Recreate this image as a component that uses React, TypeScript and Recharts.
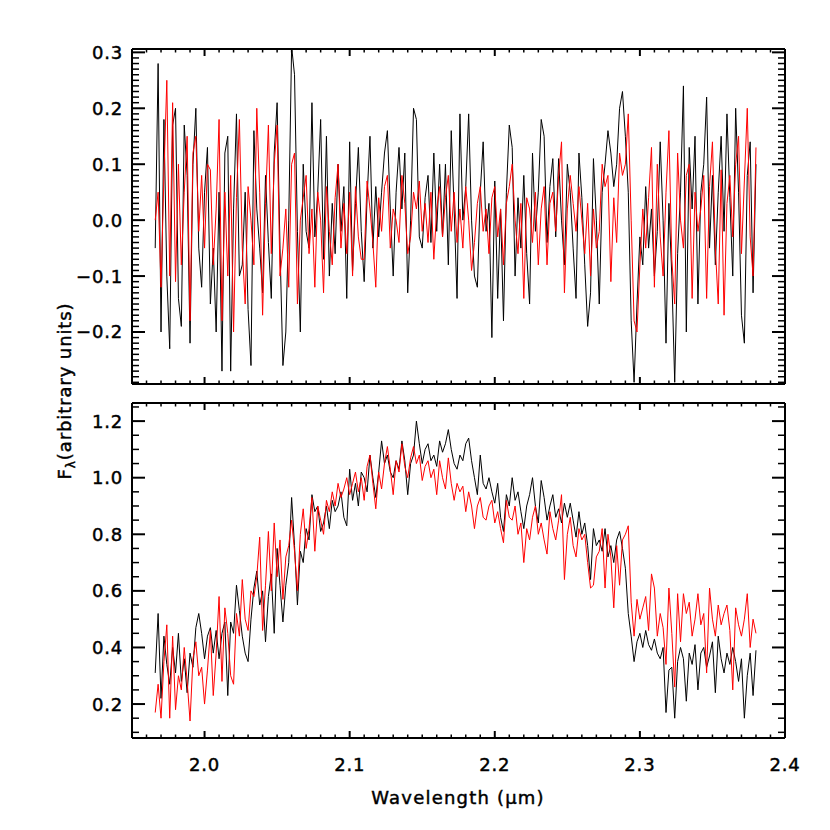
import React from 'react';
import { LineChart, Line, XAxis, YAxis } from 'recharts';

// ---------- data ----------
const START_WAVELENGTH = 1.966;
const WAVELENGTH_STEP = 0.002;

const topBlack = [
  -0.05, 0.28, -0.2, 0.18, -0.1, -0.23, 0.17, 0.2, -0.14, -0.19,
  0.17, 0.08, -0.22, 0.1, 0.2, -0.05, -0.12, 0.05, 0.13, -0.15,
  -0.05, -0.2, 0.05, -0.27, 0.12, 0.15, -0.27, 0.02, 0.19, -0.1,
  -0.08, 0.05, -0.16, -0.26, 0.16, 0.02, -0.05, -0.13, 0.08, -0.04,
  -0.14, 0.12, 0.21, -0.05, -0.26, -0.2, 0.0, 0.31, 0.26, -0.02,
  -0.2, 0.1, -0.02, -0.05, 0.21, -0.03, 0.05, 0.18, -0.07, 0.15,
  -0.1, 0.03, -0.06, 0.1, -0.02, 0.06, -0.14, 0.14, -0.09, 0.03,
  0.13, -0.02, -0.11, 0.04, 0.15, -0.05, 0.06, -0.03, 0.05, 0.12,
  0.16, 0.02, -0.1, 0.05, 0.13, 0.02, 0.12, -0.13, 0.0, 0.2,
  0.18, -0.03, -0.05, 0.04, 0.08, -0.04, 0.12, -0.02, 0.1, -0.03,
  0.1, -0.08, 0.16, 0.02, -0.14, 0.19, 0.0, 0.06, 0.19, 0.0,
  -0.1, -0.12, 0.05, 0.14, -0.02, 0.03, -0.21, 0.07, -0.14, 0.02,
  -0.18, 0.05, 0.17, 0.13, -0.1, 0.04, -0.05, 0.08, -0.06, -0.15,
  0.12, -0.02, 0.05, 0.18, 0.15, -0.04, 0.06, 0.11, -0.03, 0.11,
  0.0, -0.08, 0.1, 0.05, -0.05, -0.14, 0.12, 0.04, -0.08, -0.19,
  -0.13, 0.11, 0.0, -0.15, 0.05, 0.1, 0.16, 0.12, 0.06, 0.1,
  0.2, 0.23, 0.15, 0.05, -0.18, -0.29, -0.15, -0.03, -0.08, 0.06,
  -0.05, 0.02, -0.1, -0.02, 0.14, 0.0, -0.22, 0.03, -0.1, -0.29,
  -0.06, 0.05, 0.24, -0.2, 0.13, 0.02, 0.15, -0.15, 0.05, 0.1,
  0.22, -0.05, 0.08, -0.08, 0.05, 0.15, -0.02, 0.19, 0.04, -0.1,
  0.2, 0.05, -0.17, -0.22, 0.08, 0.14, -0.13, 0.1,
];

const topRed = [
  0.0, 0.05, -0.12, 0.08, 0.25, -0.1, 0.21, -0.11, 0.1, -0.08,
  0.05, 0.15, -0.18, 0.12, 0.15, -0.02, 0.08, -0.05, 0.1, 0.09,
  -0.08, 0.02, 0.18, -0.18, 0.05, -0.1, 0.08, -0.2, 0.04, 0.18,
  -0.05, -0.15, 0.06, 0.0, -0.08, 0.2, 0.05, -0.17, 0.03, 0.17,
  -0.06, 0.1, 0.17, -0.1, -0.05, 0.02, -0.12, 0.1, 0.12, -0.15,
  0.0, 0.04, 0.08, -0.06, 0.02, -0.12, 0.05, 0.0, -0.13, 0.06,
  -0.02, -0.08, 0.04, 0.1, -0.05, 0.03, -0.06, 0.05, -0.1, 0.06,
  -0.03, -0.07, -0.07, 0.07, 0.02, -0.04, -0.12, 0.04, -0.02, 0.06,
  0.08, -0.05, 0.02, 0.0, -0.04, 0.08, 0.03, -0.06, -0.03, 0.05,
  0.02, 0.07, -0.02, 0.03, -0.04, 0.05, -0.07, 0.02, 0.06, -0.03,
  0.04, 0.08, -0.02, 0.05, -0.04, 0.02, -0.05, 0.06, 0.0, -0.09,
  -0.04, 0.03, 0.06, -0.02, 0.02, -0.06, 0.04, 0.06, -0.03, 0.02,
  -0.08, 0.03, 0.06, 0.1, 0.0, -0.06, 0.03, -0.14, 0.04, 0.02,
  -0.04, 0.05, -0.08, 0.02, 0.06, -0.08, 0.03, 0.05, -0.02, 0.08,
  0.14, -0.13, 0.02, 0.08, 0.03, -0.02, 0.06, 0.0, -0.06, 0.03,
  -0.1, 0.02, -0.05, -0.02, 0.1, 0.06, 0.08, -0.11, 0.04, -0.04,
  0.12, 0.08, 0.1, 0.19, 0.0, -0.18, -0.2, -0.08, 0.02, -0.05,
  0.04, 0.13, -0.12, 0.1, -0.03, -0.1, 0.05, 0.16, -0.07, -0.15,
  0.12, 0.0, -0.05, 0.08, 0.1, -0.14, 0.05, -0.02, 0.02, 0.08,
  -0.14, 0.06, 0.14, -0.05, -0.15, 0.09, -0.17, 0.03, 0.08, -0.03,
  0.1, 0.15, -0.06, 0.07, 0.2, -0.03, -0.1, 0.13,
];

const bottomBlack = [
  0.31, 0.52, 0.22, 0.44, 0.34, 0.27, 0.40, 0.31, 0.45, 0.28,
  0.36, 0.24, 0.38, 0.33, 0.47, 0.52, 0.45, 0.36, 0.44, 0.47,
  0.38, 0.46, 0.36, 0.45, 0.49, 0.23, 0.49, 0.45, 0.62, 0.53,
  0.44, 0.38, 0.35, 0.50, 0.61, 0.67, 0.55, 0.60, 0.42, 0.58,
  0.66, 0.45, 0.75, 0.62, 0.49, 0.62, 0.70, 0.93, 0.76, 0.55,
  0.74, 0.70, 0.82, 0.78, 0.94, 0.88, 0.90, 0.81, 0.84, 0.90,
  0.82, 0.92, 0.88, 0.90, 0.95, 0.86, 0.83, 1.03, 0.92, 0.98,
  0.90, 1.02, 1.00, 0.95, 1.08, 1.00, 0.93, 1.02, 1.13, 1.05,
  1.08, 1.02, 1.00, 1.06, 1.03, 1.13, 1.06, 0.94, 1.05, 1.08,
  1.20, 1.12, 1.05, 1.10, 1.12, 1.06, 1.08, 1.04, 1.13, 1.09,
  1.12, 1.17, 1.10, 1.05, 1.03, 1.08, 1.06, 1.12, 1.14, 1.06,
  1.00, 0.94, 1.08, 0.98, 0.96, 1.00, 0.95, 0.91, 0.98, 0.86,
  0.81, 0.94, 0.90, 1.00, 0.92, 0.95, 0.88, 0.82, 0.90, 0.94,
  1.00, 0.90, 0.84, 0.99, 0.93, 0.85, 0.90, 0.94, 0.86, 0.89,
  0.84, 0.91, 0.86, 0.91, 0.85, 0.79, 0.88, 0.80, 0.84, 0.76,
  0.64, 0.82, 0.76, 0.78, 0.74, 0.82, 0.72, 0.76, 0.70, 0.78,
  0.81, 0.75, 0.68, 0.52, 0.44, 0.35, 0.42, 0.45, 0.40, 0.46,
  0.41, 0.39, 0.43, 0.38, 0.36, 0.40, 0.17, 0.32, 0.33, 0.15,
  0.35, 0.40, 0.36, 0.21, 0.38, 0.34, 0.41, 0.25, 0.38, 0.40,
  0.33, 0.37, 0.42, 0.24, 0.44, 0.36, 0.31, 0.38, 0.34, 0.40,
  0.35, 0.28, 0.36, 0.15, 0.30, 0.38, 0.23, 0.39,
];

const bottomRed = [
  0.17, 0.27, 0.15, 0.35, 0.48, 0.15, 0.44, 0.18, 0.30, 0.25,
  0.40, 0.28, 0.14, 0.36, 0.42, 0.30, 0.33, 0.20, 0.32, 0.46,
  0.23, 0.38, 0.58, 0.28, 0.54, 0.45, 0.30, 0.27, 0.52, 0.44,
  0.64, 0.50, 0.46, 0.60, 0.58, 0.65, 0.79, 0.46, 0.62, 0.81,
  0.60, 0.84, 0.65, 0.78, 0.57, 0.72, 0.76, 0.85, 0.74, 0.60,
  0.80, 0.89, 0.75, 0.82, 0.93, 0.74, 0.90, 0.85, 0.80, 0.92,
  0.88, 0.95, 0.90, 0.98, 0.93, 0.96, 1.00, 0.94, 0.98, 1.02,
  0.95, 1.00, 0.92, 1.04, 1.08, 0.98, 0.89, 1.02, 0.96, 1.05,
  1.11, 1.03, 0.94, 1.06, 1.02, 1.12, 1.04, 1.00, 1.07, 1.11,
  1.05, 1.08, 0.99, 1.04, 1.06, 1.00, 1.03, 0.94, 1.06, 1.00,
  0.96, 1.07, 0.98, 0.92, 0.98, 0.95, 0.97, 0.88, 0.95, 0.90,
  0.82, 0.90, 0.93, 0.86, 0.85, 0.90, 0.92, 0.84, 0.88, 0.82,
  0.77, 0.92, 0.86, 0.85, 0.90, 0.80, 0.84, 0.70, 0.82, 0.78,
  0.86, 0.90, 0.80, 0.84, 0.78, 0.73, 0.88, 0.82, 0.78, 0.85,
  0.94, 0.64, 0.80, 0.86, 0.76, 0.72, 0.82, 0.78, 0.80, 0.70,
  0.61, 0.62, 0.72, 0.74, 0.82, 0.61, 0.80, 0.72, 0.54, 0.76,
  0.62, 0.78, 0.80, 0.83, 0.56, 0.44, 0.57, 0.50, 0.54, 0.58,
  0.46, 0.66, 0.61, 0.44, 0.52, 0.47, 0.34, 0.61, 0.45, 0.26,
  0.59, 0.42, 0.59, 0.52, 0.56, 0.44, 0.50, 0.59, 0.48, 0.52,
  0.31, 0.61, 0.50, 0.44, 0.55, 0.48, 0.52, 0.55, 0.46, 0.25,
  0.54, 0.48, 0.44, 0.50, 0.59, 0.40, 0.50, 0.45,
];

const xMajorTicks = [2.0, 2.1, 2.2, 2.3, 2.4];
const topYMajorTicks = [-0.2, -0.1, 0.0, 0.1, 0.2, 0.3];
const bottomYMajorTicks = [0.2, 0.4, 0.6, 0.8, 1.0, 1.2];

const X_DOMAIN: [number, number] = [1.95, 2.4];
const TOP_Y_DOMAIN: [number, number] = [-0.293, 0.306];
const BOTTOM_Y_DOMAIN: [number, number] = [0.08, 1.264];

// ---------- derived tables ----------
const wavelengths = topBlack.map(
  (_, i) => Math.round((START_WAVELENGTH + i * WAVELENGTH_STEP) * 1000) / 1000
);
const topData = wavelengths.map((w, i) => ({ w, black: topBlack[i], red: topRed[i] }));
const bottomData = wavelengths.map((w, i) => ({ w, black: bottomBlack[i], red: bottomRed[i] }));

function tickRange(from: number, to: number, step: number) {
  const out: number[] = [];
  const n = Math.round((to - from) / step);
  for (let k = 0; k <= n; k++) out.push(Math.round((from + k * step) * 1000) / 1000);
  return out;
}
const xMinorTicks = tickRange(1.95, 2.4, 0.01);
const topYMinorTicks = tickRange(-0.29, 0.3, 0.01);
const bottomYMinorTicks = tickRange(0.1, 1.25, 0.05);

const FONT = '"DejaVu Sans", "Liberation Sans", sans-serif';
const FONT_SIZE = 18;
const TEXT_STYLE = {
  fontFamily: FONT,
  fontSize: FONT_SIZE,
  fill: '#000',
  stroke: '#000',
  strokeWidth: 0.45,
};

const fmt = (v: number) => {
  const s = Math.abs(v).toFixed(1);
  return v < -1e-9 ? '\u2212' + s : s;
};

// Axis band sizes (plot area = margins + these)
const LEFT_W = 40;
const RIGHT_W = 10;
const TOP_H = 10;
const BOTTOM_H = 30;

function makeTick(side: string, majors: number[], majorLen: number, minorLen: number, label: boolean) {
  return (props: any) => {
    const { x, y, payload } = props;
    const v = payload.value as number;
    const isMajor = majors.some((m) => Math.abs(m - v) < 1e-6);
    const len = isMajor ? majorLen : minorLen;
    let x2 = x, y2 = y;
    if (side === 'bottom') y2 = y - len;
    if (side === 'top') y2 = y + len;
    if (side === 'left') x2 = x + len;
    if (side === 'right') x2 = x - len;
    let text = null;
    if (label && isMajor) {
      if (side === 'bottom') {
        text = (
          <text x={x} y={y + 33} textAnchor="middle" letterSpacing={0.8} {...TEXT_STYLE}>
            {fmt(v)}
          </text>
        );
      } else if (side === 'left') {
        text = (
          <text x={x - 9} y={y + 6.5} textAnchor="end" letterSpacing={0.8} {...TEXT_STYLE}>
            {fmt(v)}
          </text>
        );
      }
    }
    return (
      <g>
        <line x1={x} y1={y} x2={x2} y2={y2} stroke="#000" strokeWidth={isMajor ? 2 : 1.5} />
        {text}
      </g>
    );
  };
}

const AXIS_LINE = { stroke: '#000', strokeWidth: 2 };

function Panel(props: {
  data: any[];
  yDomain: [number, number];
  yTicks: number[];
  yMajors: number[];
  plotTop: number;
  plotBottom: number;
  xLabels: boolean;
}) {
  const { data, yDomain, yTicks, yMajors, plotTop, plotBottom, xLabels } = props;
  return (
    <div style={{ position: 'absolute', left: 0, top: 0 }}>
      <LineChart
        width={830}
        height={830}
        data={data}
        margin={{
          top: plotTop - TOP_H,
          right: 45 - RIGHT_W,
          bottom: 830 - plotBottom - BOTTOM_H,
          left: 132 - LEFT_W,
        }}
      >
        <XAxis
          xAxisId="b"
          orientation="bottom"
          dataKey="w"
          type="number"
          domain={X_DOMAIN}
          allowDataOverflow
          ticks={xMinorTicks}
          interval={0}
          height={BOTTOM_H}
          tickSize={0}
          tickMargin={0}
          tickLine={false}
          axisLine={AXIS_LINE}
          tick={makeTick('bottom', xMajorTicks, 7, 3.5, xLabels)}
        />
        <XAxis
          xAxisId="t"
          orientation="top"
          dataKey="w"
          type="number"
          domain={X_DOMAIN}
          allowDataOverflow
          ticks={xMinorTicks}
          interval={0}
          height={TOP_H}
          tickSize={0}
          tickMargin={0}
          tickLine={false}
          axisLine={AXIS_LINE}
          tick={makeTick('top', xMajorTicks, 7, 3.5, false)}
        />
        <YAxis
          yAxisId="l"
          orientation="left"
          type="number"
          domain={yDomain}
          allowDataOverflow
          ticks={yTicks}
          interval={0}
          width={LEFT_W}
          tickSize={0}
          tickMargin={0}
          tickLine={false}
          axisLine={AXIS_LINE}
          tick={makeTick('left', yMajors, 13, 7, true)}
        />
        <YAxis
          yAxisId="r"
          orientation="right"
          type="number"
          domain={yDomain}
          allowDataOverflow
          ticks={yTicks}
          interval={0}
          width={RIGHT_W}
          tickSize={0}
          tickMargin={0}
          tickLine={false}
          axisLine={AXIS_LINE}
          tick={makeTick('right', yMajors, 13, 7, false)}
        />
        <Line
          xAxisId="b"
          yAxisId="l"
          type="linear"
          dataKey="black"
          stroke="#000000"
          strokeWidth={1}
          dot={false}
          isAnimationActive={false}
        />
        <Line
          xAxisId="b"
          yAxisId="l"
          type="linear"
          dataKey="red"
          stroke="#ff0000"
          strokeWidth={1}
          dot={false}
          isAnimationActive={false}
        />
      </LineChart>
    </div>
  );
}

export default function App() {
  return (
    <div style={{ position: 'absolute', left: 0, top: 0, width: 830, height: 830, background: '#fff' }}>
      <Panel
        data={topData}
        yDomain={TOP_Y_DOMAIN}
        yTicks={topYMinorTicks}
        yMajors={topYMajorTicks}
        plotTop={49}
        plotBottom={384}
        xLabels={false}
      />
      <Panel
        data={bottomData}
        yDomain={BOTTOM_Y_DOMAIN}
        yTicks={bottomYMinorTicks}
        yMajors={bottomYMajorTicks}
        plotTop={403}
        plotBottom={738}
        xLabels={true}
      />
      <svg
        width={830}
        height={830}
        style={{ position: 'absolute', left: 0, top: 0, pointerEvents: 'none' }}
      >
        <text x={458} y={804} textAnchor="middle" letterSpacing={1.2} {...TEXT_STYLE}>
          Wavelength (μm)
        </text>
        <text
          transform="translate(71,391) rotate(-90)"
          textAnchor="middle"
          letterSpacing={0.9}
          {...TEXT_STYLE}
        >
          <tspan>F</tspan>
          <tspan fontSize={12} dy={4}>λ</tspan>
          <tspan dy={-4}>(arbitrary units)</tspan>
        </text>
      </svg>
    </div>
  );
}
